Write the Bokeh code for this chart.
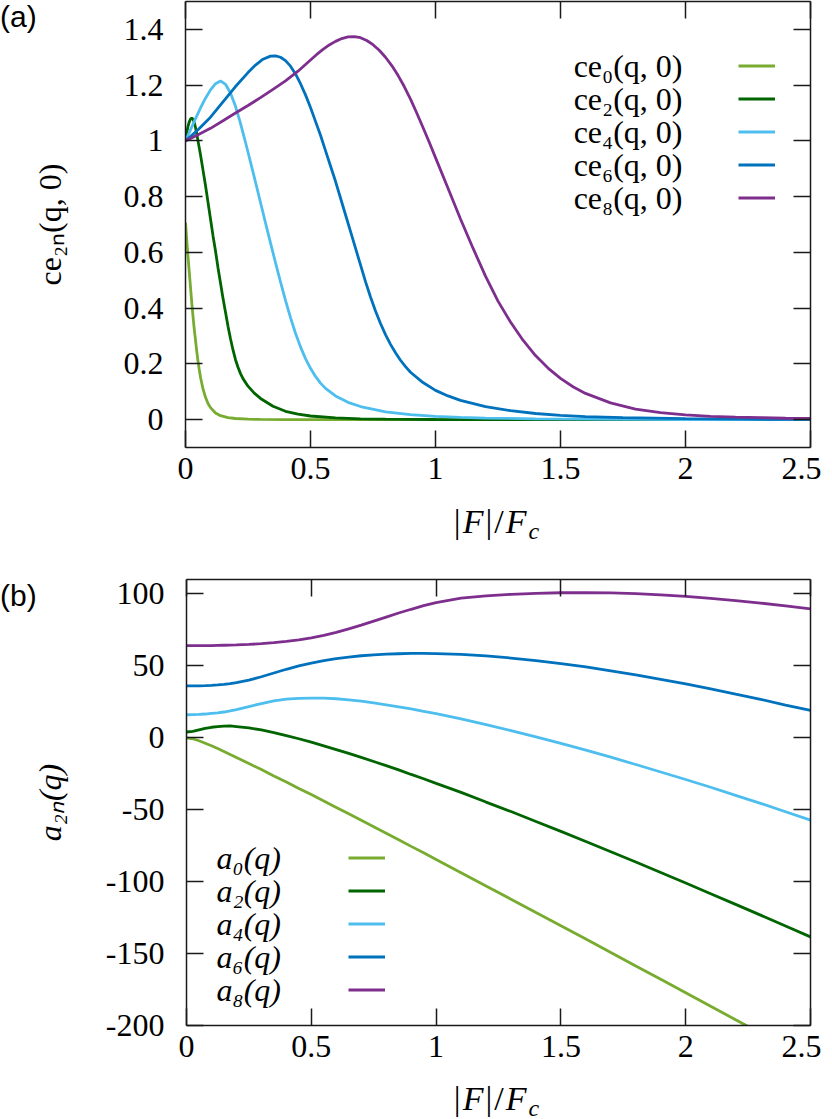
from bokeh.plotting import figure
from bokeh.layouts import column, row
from bokeh.models import (Range1d, FixedTicker, LinearAxis, CustomJSTickFormatter,
                          Label, Legend, LegendItem, Div)
from bokeh.embed import file_html
from bokeh.resources import INLINE

# ---------------- data ----------------
x_ticks = [0, 0.5, 1, 1.5, 2, 2.5]
ya_ticks = [0, 0.2, 0.4, 0.6, 0.8, 1, 1.2, 1.4]
yb_ticks = [-200, -150, -100, -50, 0, 50, 100]

# panel (a): ce_{2n}(q,0) vs |F|/F_c
x_ce0 = [0, 0.005, 0.01, 0.015, 0.02, 0.025, 0.03, 0.035, 0.04, 0.045, 0.05, 0.055, 0.06, 0.07, 0.08, 0.09, 0.1, 0.12, 0.14, 0.17, 0.2, 0.25, 0.3, 0.4, 0.6, 1.0, 1.5, 2.0, 2.5]
ce0 = [0.707, 0.645, 0.585, 0.53, 0.475, 0.42, 0.37, 0.325, 0.285, 0.245, 0.21, 0.18, 0.152, 0.11, 0.08, 0.058, 0.043, 0.024, 0.014, 0.007, 0.004, 0.0015, 0.0006, 0.0001, 0.0, 0.0, 0.0, 0.0, 0.0]

x_ce2 = [0, 0.005, 0.01, 0.015, 0.02, 0.025, 0.03, 0.035, 0.04, 0.045, 0.05, 0.06, 0.07, 0.08, 0.09, 0.1, 0.11, 0.12, 0.13, 0.14, 0.15, 0.16, 0.17, 0.18, 0.19, 0.2, 0.21, 0.22, 0.23, 0.25, 0.275, 0.3, 0.35, 0.4, 0.45, 0.5, 0.6, 0.7, 0.8, 1.0, 1.5, 2.0, 2.5]
ce2 = [1.0, 1.03, 1.052, 1.068, 1.078, 1.082, 1.078, 1.066, 1.048, 1.026, 1.0, 0.95, 0.895, 0.84, 0.78, 0.72, 0.66, 0.605, 0.545, 0.49, 0.435, 0.385, 0.335, 0.29, 0.25, 0.215, 0.188, 0.165, 0.147, 0.12, 0.095, 0.076, 0.048, 0.03, 0.02, 0.013, 0.006, 0.003, 0.0015, 0.0004, 0.0, 0.0, 0.0]

x_ce4 = [0, 0.02, 0.04, 0.06, 0.08, 0.1, 0.12, 0.14, 0.16, 0.18, 0.2, 0.22, 0.24, 0.26, 0.28, 0.3, 0.32, 0.34, 0.36, 0.38, 0.4, 0.42, 0.44, 0.46, 0.48, 0.5, 0.52, 0.54, 0.56, 0.6, 0.65, 0.7, 0.8, 0.9, 1.0, 1.1, 1.2, 1.4, 1.6, 2.0, 2.5]
ce4 = [1.0, 1.04, 1.08, 1.118, 1.153, 1.183, 1.205, 1.215, 1.203, 1.172, 1.124, 1.063, 0.995, 0.924, 0.852, 0.779, 0.706, 0.634, 0.563, 0.494, 0.428, 0.366, 0.31, 0.261, 0.219, 0.184, 0.155, 0.131, 0.112, 0.085, 0.062, 0.047, 0.028, 0.018, 0.012, 0.008, 0.0055, 0.003, 0.0015, 0.0004, 0.0001]

x_ce6 = [0, 0.05, 0.1, 0.15, 0.2, 0.25, 0.28, 0.31, 0.34, 0.36, 0.38, 0.4, 0.42, 0.44, 0.46, 0.48, 0.5, 0.52, 0.54, 0.56, 0.58, 0.6, 0.62, 0.64, 0.66, 0.68, 0.7, 0.72, 0.74, 0.76, 0.78, 0.8, 0.82, 0.84, 0.86, 0.88, 0.9, 0.95, 1.0, 1.05, 1.1, 1.2, 1.3, 1.4, 1.5, 1.6, 1.75, 2.0, 2.25, 2.5]
ce6 = [1.0, 1.04, 1.085, 1.14, 1.195, 1.245, 1.272, 1.293, 1.304, 1.305, 1.3, 1.288, 1.268, 1.24, 1.205, 1.165, 1.12, 1.07, 1.02, 0.965, 0.91, 0.855, 0.795, 0.735, 0.675, 0.615, 0.555, 0.495, 0.44, 0.39, 0.345, 0.305, 0.27, 0.24, 0.213, 0.19, 0.17, 0.133, 0.105, 0.085, 0.069, 0.047, 0.032, 0.022, 0.015, 0.011, 0.007, 0.0035, 0.0015, 0.0006]

x_ce8 = [0, 0.05, 0.1, 0.15, 0.2, 0.25, 0.3, 0.35, 0.4, 0.45, 0.5, 0.525, 0.55, 0.575, 0.6, 0.625, 0.65, 0.675, 0.7, 0.725, 0.75, 0.775, 0.8, 0.825, 0.85, 0.875, 0.9, 0.925, 0.95, 0.975, 1.0, 1.05, 1.1, 1.15, 1.2, 1.25, 1.3, 1.35, 1.4, 1.45, 1.5, 1.55, 1.6, 1.7, 1.8, 1.9, 2.0, 2.1, 2.2, 2.3, 2.4, 2.5]
ce8 = [1.0, 1.022, 1.045, 1.072, 1.1, 1.127, 1.155, 1.185, 1.215, 1.25, 1.29, 1.31, 1.328, 1.344, 1.357, 1.367, 1.373, 1.374, 1.37, 1.36, 1.345, 1.325, 1.3, 1.27, 1.235, 1.195, 1.15, 1.1, 1.048, 0.995, 0.94, 0.83, 0.72, 0.615, 0.515, 0.425, 0.35, 0.285, 0.23, 0.185, 0.148, 0.118, 0.094, 0.06, 0.038, 0.025, 0.017, 0.012, 0.009, 0.007, 0.005, 0.004]

# panel (b): a_{2n}(q) vs |F|/F_c
x_a = [0, 0.025, 0.05, 0.075, 0.1, 0.125, 0.15, 0.175, 0.2, 0.25, 0.3, 0.35, 0.4, 0.45, 0.5, 0.55, 0.6, 0.65, 0.7, 0.75,
       0.8, 0.85, 0.9, 0.95, 1.0, 1.1, 1.2, 1.3, 1.4, 1.5, 1.6, 1.7, 1.8, 1.9, 2.0, 2.1, 2.2, 2.3, 2.4, 2.5]
a0 = [0.0, -0.7, -2.1, -3.8, -5.6, -7.5, -9.5, -11.6, -13.7, -17.9, -22.1, -26.5, -30.8, -35.2, -39.5, -43.9, -48.4, -52.9, -57.4, -61.9,
      -66.4, -70.9, -75.5, -80.0, -84.6, -93.8, -103.0, -112.2, -121.5, -130.7, -139.9, -149.3, -158.6, -167.9, -177.2, -186.6, -196.0, -205.3, -214.7, -224.0]
a2 = [4.0, 4.5, 5.5, 6.5, 7.3, 7.8, 8.1, 8.2, 7.8, 6.9, 5.4, 3.6, 1.5, -0.7, -3.1, -5.6, -8.2, -10.9, -13.6, -16.5,
      -19.4, -22.3, -25.5, -28.5, -31.7, -38.0, -44.7, -51.3, -58.2, -65.1, -72.1, -79.2, -86.4, -93.7, -101.0, -108.4, -115.8, -123.3, -130.9, -138.4]
a4 = [16.0, 16.05, 16.2, 16.5, 16.9, 17.3, 17.9, 18.7, 19.6, 21.7, 23.8, 25.6, 26.8, 27.4, 27.6, 27.5, 27.1, 26.4, 25.4, 24.2,
      22.9, 21.5, 20.0, 18.4, 16.8, 13.2, 9.2, 5.0, 0.6, -3.9, -8.6, -13.5, -18.6, -23.8, -29.0, -34.4, -40.0, -45.6, -51.4, -57.2]
a6 = [36.0, 36.0, 36.05, 36.2, 36.4, 36.7, 37.1, 37.6, 38.3, 40.1, 42.4, 45.0, 47.6, 49.9, 51.9, 53.6, 55.0, 56.1, 57.0, 57.6,
      58.1, 58.4, 58.6, 58.6, 58.5, 57.9, 56.9, 55.4, 53.6, 51.5, 49.2, 46.5, 43.7, 40.6, 37.4, 34.0, 30.3, 26.7, 22.7, 19.0]
a8 = [64.0, 64.0, 64.0, 64.05, 64.1, 64.2, 64.3, 64.4, 64.5, 64.9, 65.4, 66.1, 67.0, 68.1, 69.5, 71.2, 73.3, 75.7, 78.3, 81.1,
      83.9, 86.7, 89.3, 91.8, 94.0, 97.0, 98.6, 99.7, 100.4, 100.8, 100.9, 100.7, 100.2, 99.3, 98.2, 96.9, 95.3, 93.6, 91.6, 89.6]

colors = ["#77AC30", "#006400", "#4DBEEE", "#0072BD", "#7E2F8E"]
labels_a = ["ce\u2080(q, 0)", "ce\u2082(q, 0)", "ce\u2084(q, 0)", "ce\u2086(q, 0)", "ce\u2088(q, 0)"]
labels_b = ["a\u2080(q)", "a\u2082(q)", "a\u2084(q)", "a\u2086(q)", "a\u2088(q)"]

SERIF = "Liberation Serif"
FS = "32px"
AX = "#1a1a1a"
FRAME_H = 446
LW = 2.8
TAG_W = 28
BORDER_L = 157
BORDER_R = 11
FIG_W = BORDER_L + 625 + BORDER_R


def style_axis(ax, ticks, labels=True):
    ax.ticker = FixedTicker(ticks=ticks)
    ax.major_tick_in = 17
    ax.major_tick_out = 0
    ax.minor_tick_in = 0
    ax.minor_tick_out = 0
    ax.axis_line_width = 1.5
    ax.axis_line_color = AX
    ax.major_tick_line_width = 1.5
    ax.major_tick_line_color = AX
    if labels:
        ax.formatter = CustomJSTickFormatter(code="return String(tick)")
        ax.major_label_text_font = SERIF
        ax.major_label_text_font_size = FS
        ax.major_label_text_color = "black"
    else:
        ax.formatter = CustomJSTickFormatter(code="return ''")
        ax.major_label_text_font_size = "1px"
        ax.major_label_standoff = 0


def make_fig(yr, yticks, top, bottom, ylabel, ylabel_style, ylabel_standoff):
    p = figure(width=FIG_W, height=top + FRAME_H + bottom, x_range=Range1d(0, 2.5),
               y_range=Range1d(*yr), output_backend="svg", toolbar_location=None,
               min_border_left=BORDER_L, min_border_right=BORDER_R,
               min_border_top=top, min_border_bottom=bottom)
    p.xgrid.visible = False
    p.ygrid.visible = False
    p.outline_line_color = None
    p.border_fill_alpha = 0
    style_axis(p.xaxis[0], x_ticks)
    p.xaxis.major_label_standoff = 10
    style_axis(p.yaxis[0], yticks)
    p.yaxis.major_label_standoff = 22
    p.yaxis.axis_label = ylabel
    p.yaxis.axis_label_text_font = SERIF
    p.yaxis.axis_label_text_font_size = FS
    p.yaxis.axis_label_text_font_style = ylabel_style
    p.yaxis.axis_label_text_color = "black"
    p.yaxis.axis_label_standoff = ylabel_standoff
    ta = LinearAxis()
    style_axis(ta, x_ticks, labels=False)
    p.add_layout(ta, "above")
    ra = LinearAxis()
    style_axis(ra, yticks, labels=False)
    p.add_layout(ra, "right")
    return p


def add_key(p, renderers, texts, sample_x, text_x, top_row, align, style):
    n = len(renderers)
    leg = Legend(items=[LegendItem(label=" ", renderers=[r]) for r in renderers],
                 location=(sample_x, FRAME_H - (top_row - 16.5) - 33 * n),
                 orientation="vertical", glyph_width=37, glyph_height=33, spacing=0,
                 padding=0, margin=0, label_standoff=0, label_width=0, label_height=0,
                 label_text_font_size="1px", border_line_color=None,
                 background_fill_alpha=0)
    p.add_layout(leg)
    for i, t in enumerate(texts):
        p.add_layout(Label(x=text_x, y=FRAME_H - top_row - 33 * i, x_units="screen",
                           y_units="screen", text=t, text_align=align, text_baseline="middle",
                           text_font=SERIF, text_font_size=FS, text_font_style=style,
                           text_color="black"))


def panel_tag(txt, pad_top, height):
    return Div(text=('<div style="font-family:\'Liberation Sans\';font-size:30px;'
                     'line-height:34px;color:black;white-space:nowrap;overflow:visible;'
                     'padding-top:%dpx;">%s</div>' % (pad_top, txt)),
               width=TAG_W, height=height, margin=0, styles={"overflow": "visible"})


def x_label_div(height, pad_top):
    return Div(text=('<div style="margin-left:%dpx;width:625px;text-align:center;'
                     'font-family:\'Liberation Serif\';font-size:34px;line-height:37px;'
                     'letter-spacing:2px;padding-top:%dpx;color:black;white-space:nowrap;">'
                     '|<i>F</i>|/<i>F</i><span style="font-size:24px;position:relative;'
                     'top:6px;font-style:italic;">c</span></div>') % (TAG_W + BORDER_L, pad_top),
               width=TAG_W + FIG_W, height=height, margin=0)


# ---------------- panel (a) ----------------
pa = make_fig((-0.1, 1.5), ya_ticks, 1, 50, "ce\u2082\u2099(q, 0)", "normal", 53)
series_a = [(x_ce0, ce0), (x_ce2, ce2), (x_ce4, ce4), (x_ce6, ce6), (x_ce8, ce8)]
ra_list = [pa.line(xs, ys, line_color=c, line_width=LW) for (xs, ys), c in zip(series_a, colors)]
add_key(pa, ra_list, labels_a, 553, 497, 64, "right", "normal")

# ---------------- panel (b) ----------------
pb = make_fig((-200, 110), yb_ticks, 32, 50, "a\u2082\u2099(q)", "italic", 35)
series_b = [a0, a2, a4, a6, a8]
rb_list = [pb.line(x_a, ys, line_color=c, line_width=LW) for ys, c in zip(series_b, colors)]
add_key(pb, rb_list, labels_b, 162, 30, 278, "left", "italic")

layout = column(row(panel_tag("(a)", 0, 40), pa, spacing=0),
                x_label_div(50, 6),
                row(panel_tag("(b)", 32, 72), pb, spacing=0),
                x_label_div(43, 5),
                spacing=0)
open("out.html", "w").write(file_html(layout, INLINE))
